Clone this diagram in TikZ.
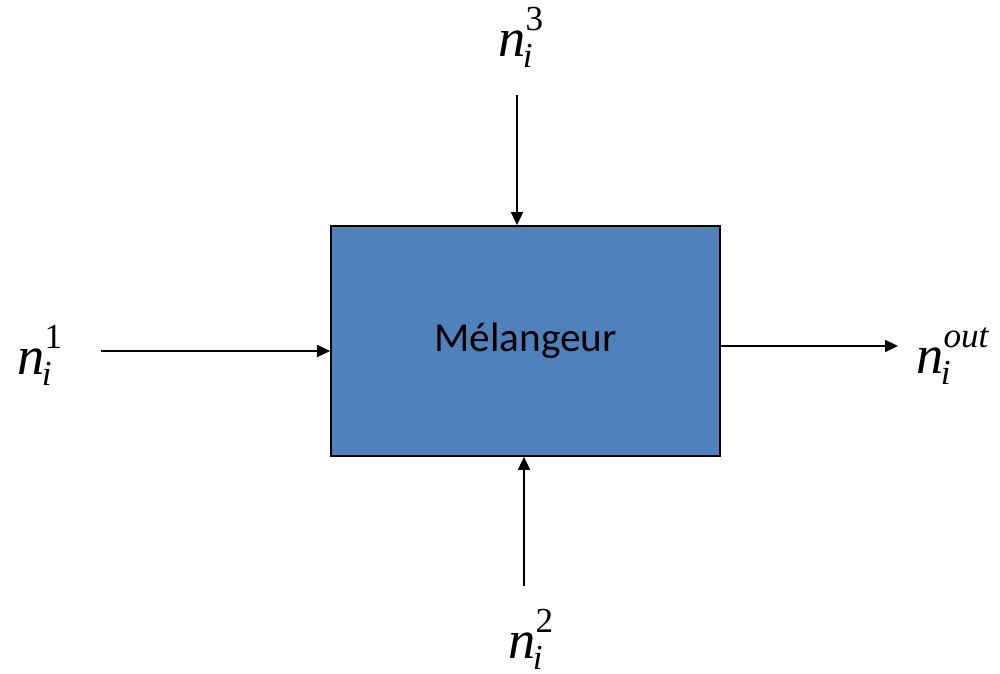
\documentclass[tikz,border=0pt]{standalone}
\usepackage{fontspec}
\newfontfamily\lblfont{Liberation Serif}
\newfontfamily\boxfont{Carlito}
\usepackage{tikz}
\usetikzlibrary{calc,arrows.meta}
\definecolor{mixblue}{HTML}{4F81BD}
\tikzset{
  mixbox/.style={rectangle, draw=black, fill=mixblue, line width=1pt,
                 minimum width=7.78cm, minimum height=4.60cm, inner sep=0pt,
                 font=\boxfont\fontsize{23.5}{28}\selectfont},
  flow/.style={line width=1pt, draw=black, -{Triangle[length=2.6mm, width=2.4mm]}},
  flowlbl/.style={inner sep=0pt, anchor=base west, font=\lblfont\fontsize{31}{36}\selectfont}
}
% n with index i below and stream number above
\newcommand{\nflow}[1]{\textit{n}\kern-0.05em%
  \rlap{\raisebox{-6pt}{\fontsize{20}{20}\selectfont\textit{i}}}%
  \raisebox{15.3pt}{\kern0.05em\fontsize{20}{20}\selectfont #1}}

\begin{document}
\begin{tikzpicture}
  \useasboundingbox (0,0) rectangle (20,13.48);
  \node[mixbox] (mix) at (10.51, 6.66) {M\'elangeur};
  % free ends of the streams
  \coordinate (in1) at ( 2.02,  6.46);
  \coordinate (in3) at (10.34, 11.58);
  \coordinate (in2) at (10.48,  1.76);
  \coordinate (out) at (17.96,  6.56);
  \node[flowlbl] (l1) at ( 0.34,  5.98) {\nflow{1}};
  \node[flowlbl] (l3) at ( 9.96, 12.34) {\nflow{3}};
  \node[flowlbl] (l2) at (10.16,  0.30) {\nflow{2}};
  \node[flowlbl] (lo) at (18.32,  6.00) {\nflow{\itshape out}};
  \draw[flow] (in1) -- (in1 -| mix.west);
  \draw[flow] (in3) -- (in3 |- mix.north);
  \draw[flow] (in2) -- (in2 |- mix.south);
  \draw[flow] (out -| mix.east) -- (out);
\end{tikzpicture}
\end{document}
